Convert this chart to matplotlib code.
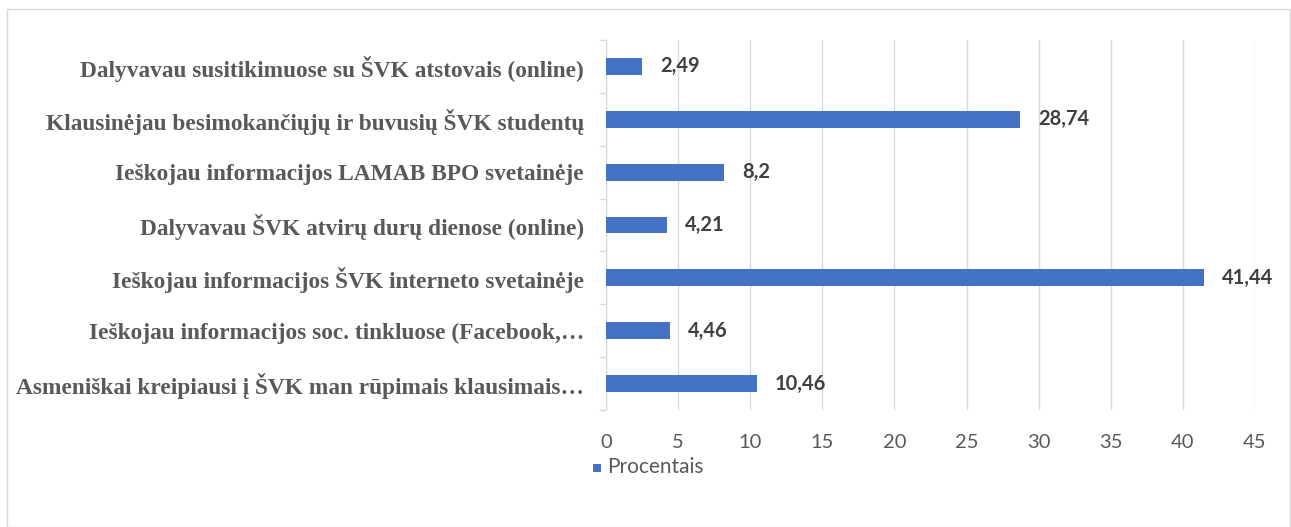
import matplotlib
matplotlib.use("Agg")
import matplotlib.pyplot as plt
from matplotlib.patches import Rectangle

categories = [
    "Dalyvavau susitikimuose su ŠVK atstovais (online)",
    "Klausinėjau besimokančiųjų ir buvusių ŠVK studentų",
    "Ieškojau informacijos LAMAB BPO svetainėje",
    "Dalyvavau ŠVK atvirų durų dienose (online)",
    "Ieškojau informacijos ŠVK interneto svetainėje",
    "Ieškojau informacijos soc. tinkluose (Facebook,…",
    "Asmeniškai kreipiausi į ŠVK man rūpimais klausimais…",
]
values = [2.49, 28.74, 8.2, 4.21, 41.44, 4.46, 10.46]
value_labels = ["2,49", "28,74", "8,2", "4,21", "41,44", "4,46", "10,46"]
x_ticks = [0, 5, 10, 15, 20, 25, 30, 35, 40, 45]
series_name = "Procentais"

bar_color = "#4472C4"
W, H = 1291, 527
fig = plt.figure(figsize=(W / 100, H / 100), dpi=100)
fig.patch.set_facecolor("white")

# outer chart border
fig.patches.append(Rectangle((7 / W, 0.0), (W - 8) / W, 1 - 9 / H, transform=fig.transFigure,
                             fill=False, edgecolor="#D9D9D9", linewidth=1.0))

ax = fig.add_axes([606 / W, 1 - 410 / H, 649 / W, 370 / H])
n = len(categories)
ypos = list(range(n))
ax.barh(ypos, values, height=0.32, color=bar_color, zorder=3)
ax.set_ylim(n - 0.5, -0.5)
ax.set_xlim(0, 45)
ax.set_xticks(x_ticks)
ax.set_xticklabels([str(t) for t in x_ticks], fontsize=14.5, color="#595959", family="Lato")
ax.tick_params(axis="x", length=0, pad=17)
ax.set_yticks(ypos)
ax.set_yticklabels(categories, fontsize=16.8, fontweight="bold", color="#595959",
                   family="Liberation Serif")
ax.tick_params(axis="y", length=0, pad=16)
ax.set_yticks([i - 0.5 for i in range(n + 1)], minor=True)
ax.tick_params(axis="y", which="minor", length=5, color="#D9D9D9", width=1)
ax.grid(axis="x", color="#D9D9D9", linewidth=1.0, zorder=0)
for s in ["top", "right", "bottom"]:
    ax.spines[s].set_visible(False)
ax.spines["left"].set_color("#D9D9D9")

for y, v, lab in zip(ypos, values, value_labels):
    ax.annotate(lab, (v, y), xytext=(18, 0), textcoords="offset pixels",
                va="center", ha="left", fontsize=14.5, fontweight="bold", color="#404040",
                family="Lato")

# legend
fig.patches.append(Rectangle((593 / W, 1 - 472 / H), 8 / W, 8 / H, transform=fig.transFigure,
                             facecolor=bar_color, edgecolor="none"))
fig.text(607 / W, 1 - 467 / H, series_name, fontsize=15, color="#595959", family="Lato",
         va="center", ha="left")

fig.savefig("out.png", dpi=100, facecolor="white")
